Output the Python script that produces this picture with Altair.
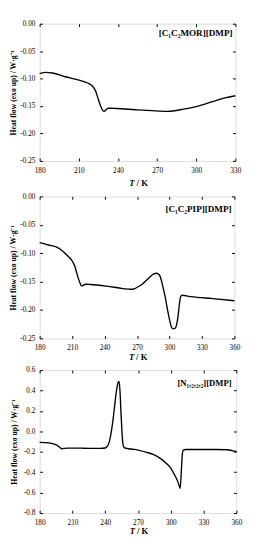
import altair as alt
import pandas as pd

FONT = "Liberation Serif"

# Panel 1: [C1C2MOR][DMP]
T1 = [180, 184.9, 189.8, 199.6, 209.4, 216.8, 220.4, 222.9, 224.6, 226.6, 228.3, 229.5,
      231, 232.7, 238.8, 253.5, 265.8, 278, 290.3, 300, 312.3, 322, 330]
H1 = [-0.0909, -0.0886, -0.0898, -0.0966, -0.1023, -0.1080, -0.1136, -0.1227, -0.1352,
      -0.1494, -0.1580, -0.1597, -0.1563, -0.1540, -0.1545, -0.1568, -0.1585, -0.1597,
      -0.1557, -0.1510, -0.1420, -0.1352, -0.1312]

# Panel 2: [C1C2PIP][DMP]
T2 = [180, 188, 197.5, 206, 210.5, 212.5, 214, 215.5, 217, 218.8, 220.5, 222.5, 227, 242,
      257, 264, 267, 271, 274.5, 278, 282, 285.5, 288, 290.5, 292.5, 294, 296, 298, 300,
      302, 303.5, 305.2, 306.5, 307.8, 309, 310, 311.4, 320, 340, 360]
H2 = [-0.0815, -0.0855, -0.0910, -0.1050, -0.1150, -0.1230, -0.1330, -0.1430, -0.1510,
      -0.1580, -0.1560, -0.1546, -0.1550, -0.1580, -0.1622, -0.1635, -0.1630, -0.1590,
      -0.1550, -0.1490, -0.1415, -0.1365, -0.1352, -0.1380, -0.1480, -0.1600, -0.1770,
      -0.1980, -0.2170, -0.2310, -0.2330, -0.2320, -0.2260, -0.2120, -0.1920, -0.1780,
      -0.1740, -0.1765, -0.1800, -0.1837]

# Panel 3: [N1,2,2,2][DMP]
T3 = [180, 188, 193.5, 197.5, 200.2, 202, 206, 220, 235, 240, 242, 243.5, 244.8, 246.9,
      248.6, 250.4, 252.1, 252.7, 253.6, 254.4, 255.3, 256.2, 257.4, 260, 265, 270, 278,
      284.3, 290, 296, 300, 303.3, 306.2, 307.7, 308.5, 309.4, 310, 310.6, 311.5, 313.5,
      320, 340, 352, 356, 360]
H3 = [-0.108, -0.112, -0.125, -0.148, -0.172, -0.166, -0.164, -0.165, -0.167, -0.163,
      -0.145, -0.110, -0.048, 0.093, 0.250, 0.406, 0.484, 0.490, 0.375, 0.187, -0.001,
      -0.126, -0.160, -0.168, -0.175, -0.183, -0.205, -0.227, -0.262, -0.314, -0.360,
      -0.424, -0.486, -0.533, -0.559, -0.439, -0.314, -0.220, -0.183, -0.178, -0.178,
      -0.178, -0.180, -0.188, -0.197]

LABELS = ["[C\u2081C\u2082MOR][DMP]", "[C\u2081C\u2082PIP][DMP]", "[N\u2081,\u2082,\u2082,\u2082][DMP]"]
X_TICKS_1 = [180, 210, 240, 270, 300, 330]
X_TICKS_2 = [180, 210, 240, 270, 300, 330, 360]
Y_TICKS_1 = [-0.25, -0.2, -0.15, -0.1, -0.05, 0]
Y_TICKS_3 = [-0.8, -0.6, -0.4, -0.2, 0, 0.2, 0.4, 0.6]
Y_TITLE = "Heat flow (exo up) / W\u00b7g\u207b\u00b9"
X_TITLE_A = "T"
X_TITLE_B = "/ K"


def make_panel(T, HF, xdom, xticks, ydom, yticks, yfmt, label, w, h, label_y, label_inset,
               label_size, xt_dy, title_pad):
    df = pd.DataFrame({"T": T, "HF": HF})
    xs = alt.Scale(domain=xdom, nice=False, zero=False)
    ys = alt.Scale(domain=ydom, nice=False, zero=False)
    yexpr = "replace(format(datum.value, '" + yfmt + "'), '\u2212', '-')"
    main = alt.Chart(df).mark_line(color="black", strokeWidth=1.4, interpolate="monotone").encode(
        x=alt.X("T:Q", scale=xs, axis=alt.Axis(
            values=xticks, format="d", title=None, ticks=False, domain=False, grid=False,
            labelFlush=False, labelOverlap=False, minExtent=0,
            labelFont=FONT, labelFontSize=7.5, labelColor="black", labelPadding=6)),
        y=alt.Y("HF:Q", scale=ys, axis=alt.Axis(
            values=yticks, labelExpr=yexpr, title=Y_TITLE, ticks=False, domain=False,
            grid=False, labelFlush=False, labelOverlap=False, minExtent=0,
            labelFont=FONT, labelFontSize=7.5, labelColor="black",
            labelPadding=5, titleFont=FONT, titleFontSize=8, titleFontWeight="bold",
            titleColor="black", titlePadding=title_pad)),
    )
    tk = dict(offset=-3, tickSize=3, tickColor="black", tickWidth=1, labels=False,
              domain=False, grid=False, title=None, minExtent=0, maxExtent=0)
    ticks_bl = alt.Chart(df).mark_line(opacity=0).encode(
        x=alt.X("T:Q", scale=xs, axis=alt.Axis(orient="bottom", values=xticks, **tk)),
        y=alt.Y("HF:Q", scale=ys, axis=alt.Axis(orient="left", values=yticks, **tk)),
    )
    ticks_tr = alt.Chart(df).mark_line(opacity=0).encode(
        x=alt.X("T:Q", scale=xs, axis=alt.Axis(orient="top", values=xticks, **tk)),
        y=alt.Y("HF:Q", scale=ys, axis=alt.Axis(orient="right", values=yticks, **tk)),
    )
    lab = alt.Chart(pd.DataFrame({"t": [label]})).mark_text(
        align="right", baseline="middle", font=FONT, fontSize=label_size, fontWeight="bold",
        color="black").encode(x=alt.value(w - label_inset), y=alt.value(label_y), text="t:N")
    xt1 = alt.Chart(pd.DataFrame({"t": [X_TITLE_A]})).mark_text(
        align="right", baseline="middle", font=FONT, fontSize=9, fontWeight="bold",
        fontStyle="italic", color="black").encode(
        x=alt.value(w / 2 - 3), y=alt.value(h + xt_dy), text="t:N")
    xt2 = alt.Chart(pd.DataFrame({"t": [X_TITLE_B]})).mark_text(
        align="left", baseline="middle", font=FONT, fontSize=9, fontWeight="bold",
        color="black").encode(
        x=alt.value(w / 2 - 1), y=alt.value(h + xt_dy), text="t:N")
    return alt.layer(main, ticks_bl, ticks_tr, lab, xt1, xt2).resolve_axis(
        x="independent", y="independent").properties(width=w, height=h)


p1 = make_panel(T1, H1, [180, 330], X_TICKS_1, [-0.25, 0], Y_TICKS_1, ".2f",
                LABELS[0], 204, 143, 9.5, 3, 9.5, 23, 3)
p2 = make_panel(T2, H2, [180, 360], X_TICKS_2, [-0.25, 0], Y_TICKS_1, ".2f",
                LABELS[1], 203, 148, 13, 3, 9.5, 19, 3)
p3 = make_panel(T3, H3, [180, 360], X_TICKS_2, [-0.8, 0.6], Y_TICKS_3, ".1f",
                LABELS[2], 205, 149, 14, 5, 9, 18.5, 5)

chart = alt.vconcat(p1, p2, p3, spacing=3).properties(
    padding={"left": 0, "top": 0, "right": 2, "bottom": 0}
).configure_view(stroke="black", strokeWidth=1).configure(background="white")

chart.save("out.html", embed_options={"renderer": "svg", "actions": False})
